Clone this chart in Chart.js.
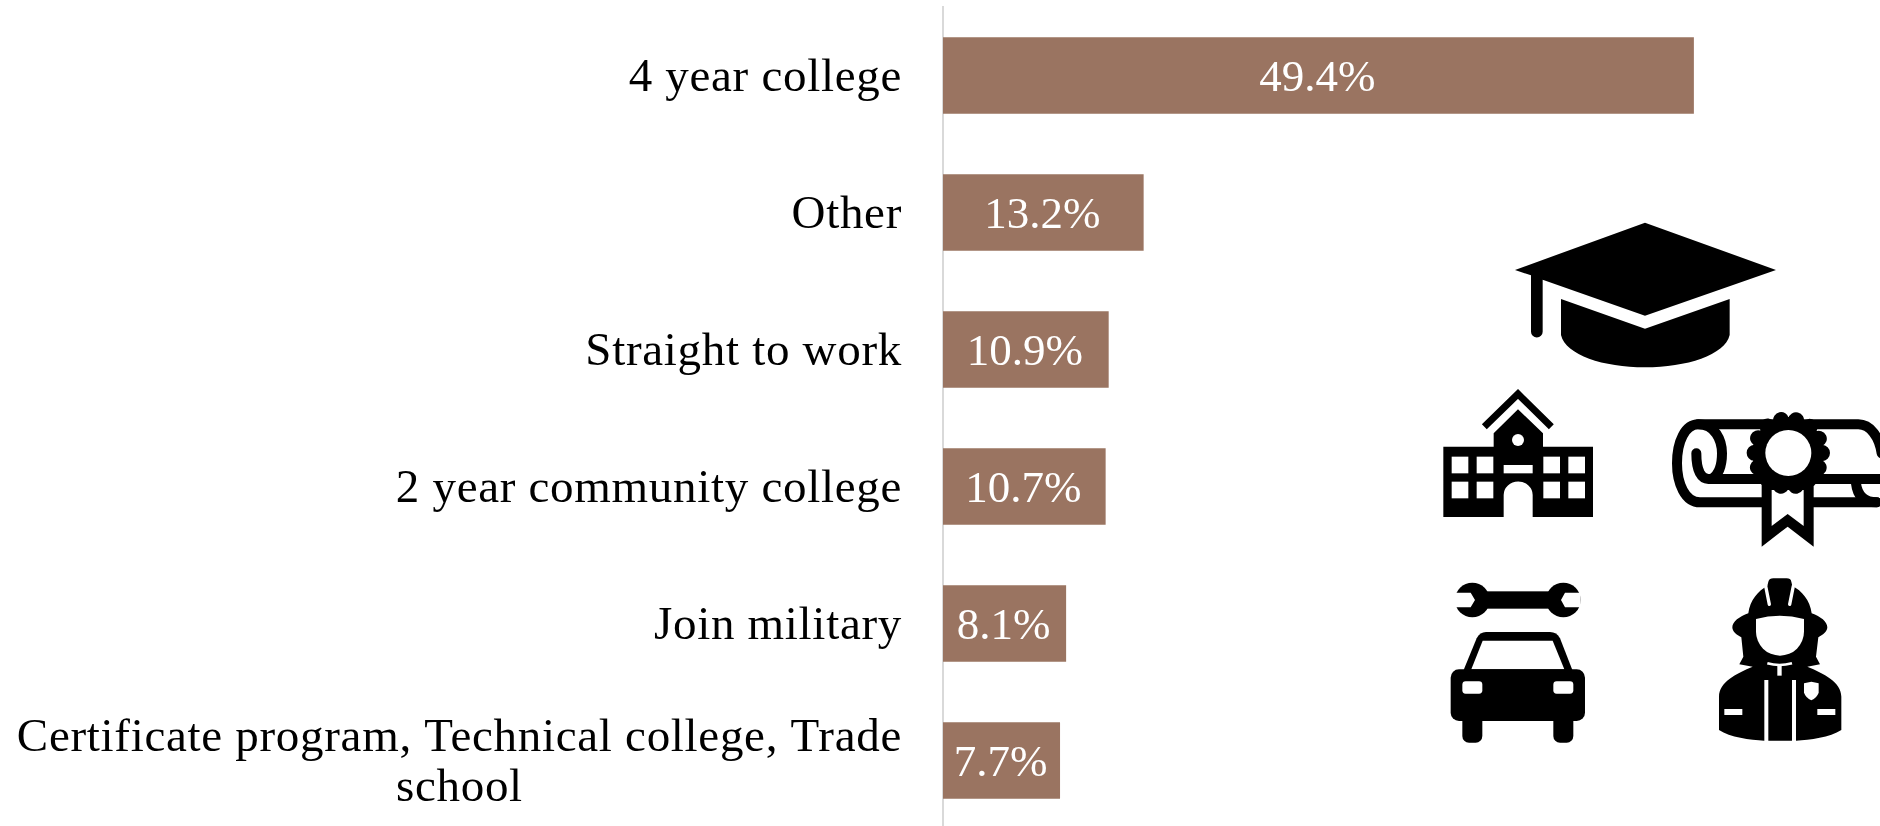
<!DOCTYPE html>
<html>
<head>
<meta charset="utf-8">
<title>After high school</title>
<script src="https://cdn.jsdelivr.net/npm/chart.js@4/dist/chart.umd.min.js"></script>
<style>
    html, body { margin: 0; padding: 0; background: #fff; overflow: hidden; }
    #wrap { position: relative; width: 1880px; height: 826px; overflow: hidden; }
    #chartCanvas { position: absolute; left: 0; top: 0; }
    #icons { position: absolute; left: 0; top: 0; }
</style>
</head>
<body>
<div id="wrap">
    <canvas id="chartCanvas" width="1880" height="840"></canvas>
    <svg id="icons" width="1880" height="826" viewBox="0 0 1880 826">
        <!-- upper icons, coordinates in crop space (3x, from 1400,200) -->
        <g transform="translate(1400,200) scale(0.33333)">
            <!-- mortarboard -->
            <path d="M735 68 L1128 210 L735 347 L428 239 L428 395 A17.5 17.5 0 0 1 393 395 L393 226 L345 210 Z"/>
            <path d="M483 297 L735 386 L989 297 L989 405 C975 465 860 502 735 502 C610 502 497 465 483 405 Z"/>
            <!-- school -->
            <path d="M130 740 H281 V700 L354 628 L429 700 V740 H579 V951 H398 V885 A43 40 0 0 0 311 885 V951 H130 Z"/>
            <path d="M253 680 L354 582 L454 680" fill="none" stroke="#000" stroke-width="21"/>
            <g fill="#fff">
                <circle cx="354" cy="720" r="18"/>
                <rect x="155" y="770" width="50" height="50"/>
                <rect x="230" y="770" width="50" height="50"/>
                <rect x="430" y="770" width="50" height="50"/>
                <rect x="505" y="770" width="50" height="50"/>
                <rect x="155" y="845" width="50" height="50"/>
                <rect x="230" y="845" width="50" height="50"/>
                <rect x="430" y="845" width="50" height="50"/>
                <rect x="505" y="845" width="50" height="50"/>
                <rect x="311" y="795" width="87" height="25"/>
            </g>
            <!-- diploma -->
            <g fill="none" stroke="#000" stroke-width="30" stroke-linecap="round">
                <path d="M1430 907 H900 C855 907 831 850 831 790 C831 725 855 673 895 673 H1375 C1410 673 1438 710 1445 760"/>
                <path d="M1445 837 H925 C905 837 889 815 889 760"/>
                <path d="M895 673 C945 673 966 720 966 760 C966 800 955 825 935 837"/>
                <path d="M1368 850 C1372 885 1390 907 1430 907"/>
            </g>
            <path d="M1085 850 V1040 L1163 980 L1241 1040 V850 Z"/>
            <path d="M1115 870 V978 L1163 942 L1211 978 V870 Z" fill="#fff"/>
            <!-- seal: scalloped edge from round dashes -->
            <circle cx="1165" cy="759" r="108"/>
            <circle cx="1165" cy="759" r="101" fill="none" stroke="#000" stroke-width="48" stroke-linecap="round" stroke-dasharray="0.01 45.32"/>
            <circle cx="1165" cy="759" r="69" fill="#fff"/>
        </g>
        <!-- lower icons, crop space from 1400,550 -->
        <g transform="translate(1400,550) scale(0.33333)">
            <!-- wrench -->
            <circle cx="217" cy="150" r="52"/>
            <circle cx="490" cy="150" r="52"/>
            <rect x="250" y="124" width="205" height="52"/>
            <path d="M165 128 H212 L225 150 L212 172 H165 Z M542 128 H495 L483 150 L495 172 H542 Z" fill="#fff"/>
            <!-- car -->
            <path d="M190 362 L230 265 Q240 246 258 246 H450 Q470 246 480 265 L518 362 Z"/>
            <path d="M214 358 L248 272 H458 L493 358 Z" fill="#fff"/>
            <rect x="152" y="358" width="403" height="155" rx="25"/>
            <rect x="187" y="490" width="60" height="88" rx="20"/>
            <rect x="460" y="490" width="60" height="88" rx="20"/>
            <rect x="187" y="394" width="60" height="37" rx="10" fill="#fff"/>
            <rect x="460" y="394" width="60" height="37" rx="10" fill="#fff"/>
            <!-- firefighter -->
            <path d="M1045 190 C1050 150 1075 122 1102 108 L1105 95 Q1108 85 1120 85 H1160 Q1172 85 1174 95 L1177 108 C1205 122 1230 150 1235 190 C1262 200 1282 215 1282 232 C1282 245 1268 255 1255 262 L1248 320 L1260 343 L1222 350 C1270 370 1324 395 1324 440 V540 C1290 562 1230 570 1188 572 V390 H1176 V572 H1105 V390 H1093 V572 C1050 570 990 562 957 540 V440 C957 395 1010 370 1058 350 L1018 343 L1030 320 L1024 262 C1010 255 997 245 997 232 C997 215 1018 200 1045 190 Z"/>
            <path d="M1068 207 Q1139 188 1212 207 V245 A72 72 0 0 1 1068 245 Z" fill="#fff"/>
            <g fill="none" stroke="#fff">
                <path d="M1097 108 L1108 163" stroke-width="10" stroke-linecap="round"/>
                <path d="M1180 108 L1169 163" stroke-width="10" stroke-linecap="round"/>
                <path d="M1102 340 Q1138 350 1176 340" stroke-width="8"/>
            </g>
            <rect x="1132" y="345" width="13" height="32" fill="#fff"/>
            <rect x="973" y="477" width="54" height="18" fill="#fff"/>
            <rect x="1252" y="477" width="54" height="18" fill="#fff"/>
            <path d="M1212 400 L1234 395 L1256 400 V428 Q1250 444 1234 451 Q1218 444 1212 428 Z" fill="#fff"/>
        </g>
    </svg>
</div>

<script>
    // Data
    const categories = ['4 year college', 'Other', 'Straight to work', '2 year community college', 'Join military', 'Certificate program, Technical college, Trade school'];
    const shares = [49.4, 13.2, 10.9, 10.7, 8.1, 7.7];

    const serifFont = '"Liberation Serif", serif';

    // Long labels wrap before "school", extra lines are centred under the first
    const labelLines = {
        'Certificate program, Technical college, Trade school': ['Certificate program, Technical college, Trade', 'school']
    };

    // Category labels and bar values, drawn on top of the bars
    const textPlugin = {
        id: 'textPlugin',
        afterDatasetsDraw(chart) {
            const ctx = chart.ctx;
            const yScale = chart.scales.y;
            const rightEdge = yScale.right - 41;
            const lineHeight = 50;

            ctx.save();
            ctx.textBaseline = 'middle';
            ctx.fillStyle = '#000000';
            ctx.font = '47px ' + serifFont;
            ctx.letterSpacing = '0.7px';

            categories.forEach((name, i) => {
                const y = yScale.getPixelForValue(i);
                const lines = labelLines[name] || [name];
                const widest = Math.max(...lines.map(l => ctx.measureText(l).width));
                lines.forEach((line, n) => {
                    const w = ctx.measureText(line).width;
                    const lineY = y + (n - (lines.length - 1) / 2) * lineHeight + 3;
                    ctx.textAlign = 'left';
                    ctx.fillText(line, rightEdge - widest + (widest - w) / 2, lineY);
                });
            });

            ctx.fillStyle = '#ffffff';
            ctx.font = '45px ' + serifFont;
            ctx.letterSpacing = '0px';
            ctx.textAlign = 'center';
            chart.getDatasetMeta(0).data.forEach((bar, i) => {
                ctx.fillText(shares[i].toFixed(1) + '%', (bar.x + bar.base) / 2 - 1, bar.y + 4);
            });
            ctx.restore();
        }
    };

    new Chart(document.getElementById('chartCanvas'), {
        type: 'bar',
        data: {
            labels: categories,
            datasets: [{
                data: shares,
                backgroundColor: '#9a7461',
                barPercentage: 0.558,
                categoryPercentage: 1
            }]
        },
        options: {
            indexAxis: 'y',
            responsive: false,
            animation: false,
            layout: { padding: { top: 7, bottom: 11, right: 25 } },
            plugins: {
                legend: { display: false },
                tooltip: { enabled: false }
            },
            scales: {
                x: { display: false, min: 0, max: 60 },
                y: {
                    grid: { display: false },
                    ticks: { display: false },
                    border: { color: '#d9d9d9', width: 2 },
                    afterFit(scale) { scale.width = 943; }
                }
            }
        },
        plugins: [textPlugin]
    });
</script>
</body>
</html>
